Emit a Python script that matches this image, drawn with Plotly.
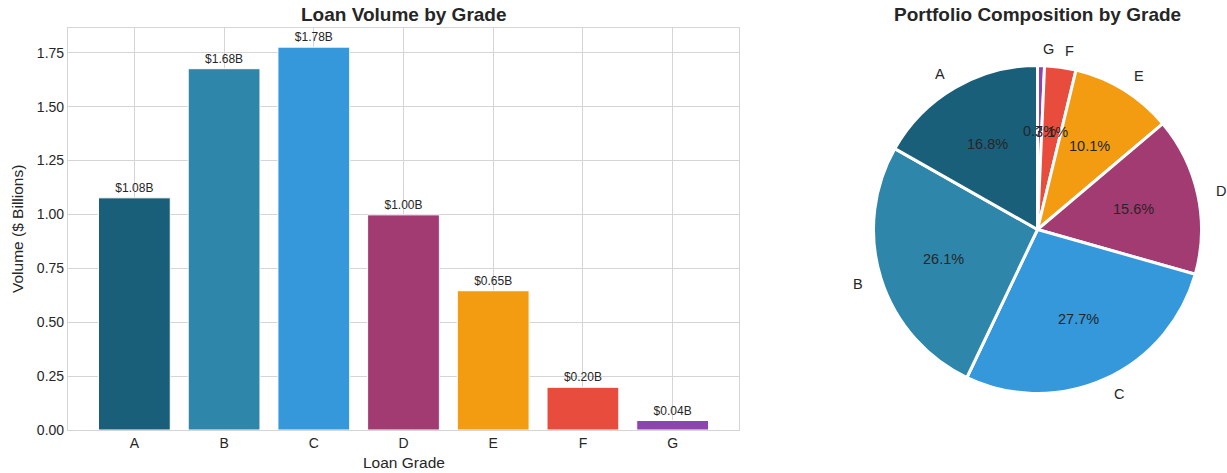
import math
import plotly.graph_objects as go

# Loan volume per grade ($ billions)
grades = ["A", "B", "C", "D", "E", "F", "G"]
volumes = [1.077, 1.676, 1.776, 0.998, 0.646, 0.198, 0.044]
colors = ["#1a5f7a", "#2e86ab", "#3498db", "#a23b72", "#f39c12", "#e74c3c", "#8e44ad"]
y_ticks = [0.0, 0.25, 0.5, 0.75, 1.0, 1.25, 1.5, 1.75]

W, H = 1227, 473
PH = 465  # drawable height of the plotting area in the page
FONT = "Liberation Sans, Arial, sans-serif"
TXT = "#262626"
GRID = "#d5d5d5"

# bar panel placement (pixels)
bx0, bx1, by_top, by_bot = 68, 739, 28, 430
# pie placement (pixels)
pcx, pcy, pr = 1037.5, 229.5, 164


def fy(py):
    """Pixel row from the top -> paper fraction."""
    return 1 - py / PH


fig = go.Figure()

fig.add_trace(go.Bar(
    x=grades, y=volumes,
    marker=dict(color=colors, line=dict(color="white", width=1)),
    width=0.8,
    text=[f"${v:.2f}B" for v in volumes],
    textposition="outside",
    textfont=dict(size=12, color=TXT, family=FONT),
    cliponaxis=False,
    xaxis="x", yaxis="y",
    showlegend=False,
))

dom_x = [(pcx - pr) / W, (pcx + pr) / W]
dom_y = [fy(pcy + pr), fy(pcy - pr)]

# slices run counterclockwise from 12 o'clock: A, B, ..., G
# (drawn clockwise in reverse order, which gives the same layout)
fig.add_trace(go.Pie(
    labels=grades[::-1], values=volumes[::-1],
    marker=dict(colors=colors[::-1], line=dict(color="white", width=3)),
    sort=False, direction="clockwise", rotation=0,
    textinfo="none", hoverinfo="label+percent",
    domain=dict(x=dom_x, y=dom_y),
    showlegend=False,
))

ymax = max(volumes) * 1.05
n = len(grades)
fig.update_layout(
    width=W, height=H,
    margin=dict(l=0, r=0, t=0, b=0),
    paper_bgcolor="white", plot_bgcolor="white",
    font=dict(family=FONT, color=TXT),
    xaxis=dict(
        domain=[bx0 / W, bx1 / W],
        range=[-0.74, n - 1 + 0.74],
        showgrid=True, gridcolor=GRID, gridwidth=1,
        showline=True, linecolor=GRID, linewidth=1.2, mirror=True,
        ticks="", tickfont=dict(size=14, color=TXT), zeroline=False,
    ),
    yaxis=dict(
        domain=[fy(by_bot), fy(by_top)],
        range=[0, ymax],
        tickvals=y_ticks, ticktext=[f"{t:.2f}" for t in y_ticks],
        showgrid=True, gridcolor=GRID, gridwidth=1,
        showline=True, linecolor=GRID, linewidth=1.2, mirror=True,
        ticks="", tickfont=dict(size=14, color=TXT), zeroline=False,
    ),
)

ann = []
# titles and axis labels
ann.append(dict(text="<b>Loan Volume by Grade</b>", x=(bx0 + bx1) / 2 / W, y=fy(14),
                xref="paper", yref="paper", showarrow=False,
                font=dict(size=19, color=TXT), xanchor="center", yanchor="middle"))
ann.append(dict(text="<b>Portfolio Composition by Grade</b>", x=pcx / W, y=fy(14),
                xref="paper", yref="paper", showarrow=False,
                font=dict(size=19, color=TXT), xanchor="center", yanchor="middle"))
ann.append(dict(text="Loan Grade", x=(bx0 + bx1) / 2 / W, y=fy(462),
                xref="paper", yref="paper", showarrow=False,
                font=dict(size=15.5, color=TXT), xanchor="center", yanchor="middle"))
ann.append(dict(text="Volume ($ Billions)", x=18 / W, y=fy((by_top + by_bot) / 2),
                xref="paper", yref="paper", showarrow=False, textangle=-90,
                font=dict(size=15.5, color=TXT), xanchor="center", yanchor="middle"))

# pie labels (outside) and percentages (inside), counterclockwise from 12 o'clock
total = sum(volumes)
start = 90.0
for g, v in zip(grades, volumes):
    frac = v / total
    mid = math.radians(start + 360 * frac / 2)
    start += 360 * frac
    cx, cy = math.cos(mid), math.sin(mid)
    lx = pcx + 1.1 * pr * cx
    ly = pcy - 1.1 * pr * cy
    ann.append(dict(text=g, x=lx / W, y=fy(ly), xref="paper", yref="paper",
                    showarrow=False, font=dict(size=14.5, color=TXT),
                    xanchor="left" if cx > 0 else "right", yanchor="middle"))
    px = pcx + 0.6 * pr * cx
    py = pcy - 0.6 * pr * cy
    ann.append(dict(text=f"{frac * 100:.1f}%", x=px / W, y=fy(py), xref="paper", yref="paper",
                    showarrow=False, font=dict(size=14.5, color=TXT),
                    xanchor="center", yanchor="middle"))

fig.update_layout(annotations=ann)
fig.write_html("out.html")
